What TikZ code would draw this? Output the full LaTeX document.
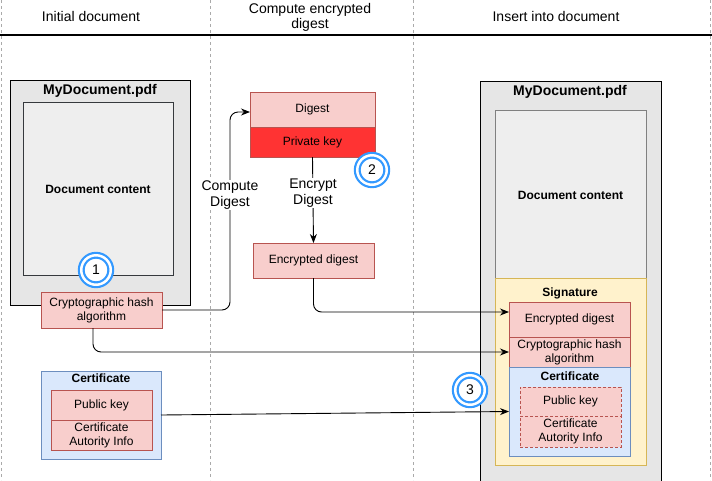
\documentclass[tikz,border=0pt]{standalone}
\usepackage{fontspec}
\setmainfont{Liberation Sans}
\usetikzlibrary{arrows.meta,calc}
\definecolor{pinkF}{HTML}{F8CECC}
\definecolor{pinkD}{HTML}{B85450}
\definecolor{redF}{HTML}{FF3333}
\definecolor{blueF}{HTML}{DAE8FC}
\definecolor{blueD}{HTML}{6C8EBF}
\definecolor{yelF}{HTML}{FFF2CC}
\definecolor{yelD}{HTML}{D6B656}
\definecolor{docOut}{HTML}{E6E6E6}
\definecolor{docIn}{HTML}{EEEEEE}
\definecolor{docInD}{HTML}{36393D}
\definecolor{ringC}{HTML}{3399FF}
\definecolor{laneC}{HTML}{AAAAAA}
\begin{document}
\begin{tikzpicture}[x=1pt,y=-1pt,
  every node/.style={inner sep=0pt, outer sep=0pt},
  txt/.style={font=\fontsize{12}{14}\selectfont, align=center},
  hdr/.style={font=\fontsize{14}{15}\selectfont, align=center},
  btitle/.style={font=\fontsize{14}{16}\selectfont\bfseries},
  bsub/.style={font=\fontsize{12}{14}\selectfont\bfseries},
  pinkbox/.style={txt, draw=pinkD, fill=pinkF, line width=0.9pt},
  dashbox/.style={pinkbox, dashed, dash pattern=on 3pt off 2pt},
  bluebox/.style={draw=blueD, fill=blueF, line width=0.9pt},
  yelbox/.style={draw=yelD, fill=yelF, line width=0.9pt},
  outdoc/.style={draw=black, fill=docOut, line width=0.9pt},
  indoc/.style={draw=docInD, fill=docIn, line width=0.9pt},
  ring/.style={circle, draw=ringC, fill=white, line width=2.2pt, double=white, double distance=2.5pt, minimum size=29.5pt, font=\fontsize{14}{16}\selectfont},
  lane/.style={draw=laneC, dashed, dash pattern=on 3pt off 3pt, line width=0.7pt},
  conn/.style={draw=black, line width=0.9pt, rounded corners=8pt, -{Stealth[length=9pt,width=7pt]}},
  lbl/.style={font=\fontsize{14}{16}\selectfont, align=center, fill=white, inner sep=1pt}
]
\useasboundingbox (0,0) rectangle (712,480);
\fill[white] (0,0) rectangle (712,480);
\clip (0,0) rectangle (712,480);

% lanes
\draw[lane] (1,0) -- (1,480);
\draw[lane] (210,0) -- (210,480);
\draw[lane] (413,0) -- (413,480);
\draw[lane] (710,0) -- (710,480);
\draw[black, line width=1.1pt] (0,35) -- (712,35);
\node[hdr] (h1) at (91,16) {Initial document};
\node[hdr] (h2) at (310,17) {Compute encrypted\\digest};
\node[hdr] (h3) at (556,16) {Insert into document};

% left document
\node[outdoc, minimum width=180pt, minimum height=225pt] (ldoc) at (100,192.5) {};
\node[btitle] (ldoct) at (100,91) {MyDocument.pdf};
\node[indoc, minimum width=150pt, minimum height=173pt] (lcont) at (98,188.5) {};
\node[bsub] (lcontt) at (98,189) {Document content};
\node[pinkbox, minimum width=121pt, minimum height=36pt] (lhash) at (101.5,310) {Cryptographic hash\\algorithm};

% left certificate
\node[bluebox, minimum width=120pt, minimum height=88pt] (lcert) at (101,415) {};
\node[bsub] (lcertt) at (101,378) {Certificate};
\node[pinkbox, minimum width=101pt, minimum height=30pt] (lpub) at (101.5,405) {Public key};
\node[pinkbox, minimum width=101pt, minimum height=30pt] (lca) at (101.5,435) {Certificate\\Autority Info};

% middle
\node[pinkbox, minimum width=125pt, minimum height=35pt] (digest) at (312.5,109.5) {Digest};
\node[pinkbox, fill=redF, minimum width=125pt, minimum height=30pt] (priv) at (312.5,142) {Private key};
\node[pinkbox, minimum width=121pt, minimum height=35pt] (encd) at (313.5,260.5) {Encrypted digest};

% right document
\node[outdoc, minimum width=181pt, minimum height=420pt] (rdoc) at (570.5,291) {};
\node[btitle] (rdoct) at (570,92) {MyDocument.pdf};
\node[indoc, draw=gray, minimum width=151pt, minimum height=168pt] (rcont) at (570.5,194) {};
\node[bsub] (rcontt) at (570.5,195) {Document content};
\node[yelbox, minimum width=151pt, minimum height=187pt] (sig) at (570.5,371.5) {};
\node[bsub] (sigt) at (570,293) {Signature};
\node[pinkbox, minimum width=121pt, minimum height=35pt] (renc) at (569.5,319.5) {Encrypted digest};
\node[pinkbox, minimum width=121pt, minimum height=30pt] (rhash) at (569.5,352) {Cryptographic hash\\algorithm};
\node[bluebox, minimum width=121pt, minimum height=89pt] (rcert) at (569.5,411.5) {};
\node[bsub] (rcertt) at (570,376) {Certificate};
\node[dashbox, minimum width=101pt, minimum height=29pt] (rpub) at (570.5,401.5) {Public key};
\node[dashbox, minimum width=101pt, minimum height=31pt] (rca) at (570.5,431.5) {Certificate\\Autority Info};

% connectors
\coordinate (cd) at (230,200);
\draw[conn] (lhash.east) -- (lhash.east -| cd) -- (cd |- 0,112) -- ([yshift=-2.5pt]digest.west);
\node[lbl] (lcd) at (230,195) {Compute\\Digest};

\draw[conn] (priv.south) -- (encd.north);
\node[lbl] (led) at (313,193) {Encrypt\\Digest};

\draw[conn] (encd.south) -- (encd.south |- 0,312) -- ([yshift=7.5pt]renc.west);
\draw[conn] ([xshift=-8.5pt]lhash.south) -- ([xshift=-8.5pt]lhash.south |- rhash.west) -- (rhash.west);
\draw[conn] (lcert.east) -- (rcert.west);

% step markers
\node[ring] (r1) at (96,270) {1};
\node[ring] (r2) at (372,170) {2};
\node[ring] (r3) at (470,390) {3};
\end{tikzpicture}
\end{document}
